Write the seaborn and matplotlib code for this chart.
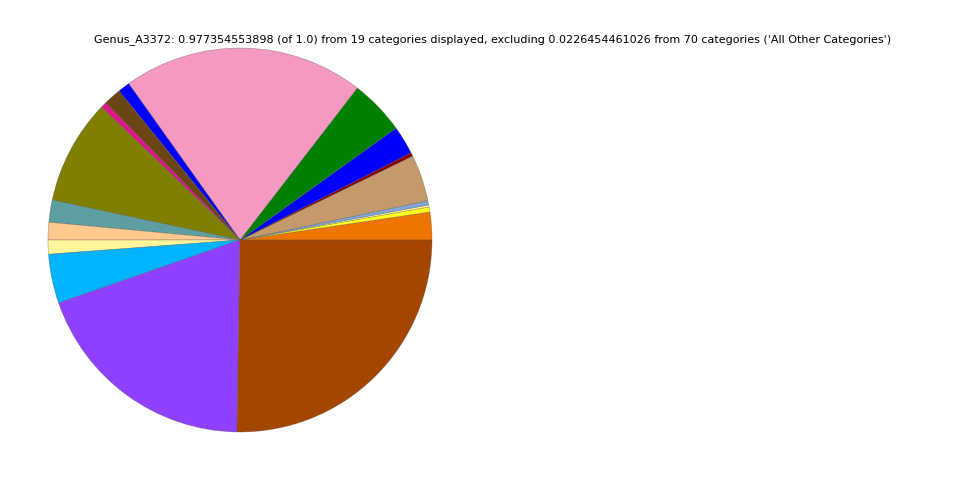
import numpy as np
import matplotlib
matplotlib.use('Agg')
import matplotlib.pyplot as plt
import seaborn as sns

# Relative abundance of the 19 displayed categories
categories = ['Cat_01', 'Cat_02', 'Cat_03', 'Cat_04', 'Cat_05', 'Cat_06', 'Cat_07',
              'Cat_08', 'Cat_09', 'Cat_10', 'Cat_11', 'Cat_12', 'Cat_13', 'Cat_14',
              'Cat_15', 'Cat_16', 'Cat_17', 'Cat_18', 'Cat_19']
abundance = [0.0228, 0.0041, 0.0017, 0.0035, 0.0383, 0.0030, 0.0233,
             0.0453, 0.1984, 0.0098, 0.0144, 0.0049, 0.0863, 0.0182,
             0.0144, 0.0116, 0.0404, 0.1897, 0.2467]
slice_colors = ['#f07400', '#ffff1a', '#fff5a0', '#7fa8d8', '#c49a6c', '#8b0000', '#0000ff',
                '#008000', '#f49ac2', '#0000ff', '#6b4513', '#e0158a', '#808000', '#5f9ea0',
                '#ffc88c', '#fff59a', '#00b4ff', '#8f40ff', '#a54600']

title_text = ("Genus_A3372: 0.977354553898 (of 1.0) from 19 categories displayed, "
              "excluding 0.0226454461026 from 70 categories ('All Other Categories')")

sns.set_style('white')
plt.rcParams['font.family'] = ['DejaVu Sans']

fig = plt.figure(figsize=(9.6, 4.8), dpi=100)
ax = fig.add_axes([48 / 960, 48 / 480, 384 / 960, 384 / 480])

ax.pie(abundance, colors=slice_colors, startangle=0, counterclock=True,
       wedgeprops={'linewidth': 0.4, 'edgecolor': (0.3, 0.3, 0.3, 0.5)})
ax.set_xlim(-1, 1)
ax.set_ylim(-1, 1)
ax.set_aspect('equal')
ax.axis('off')

fig.text(493 / 960, 1 - 40 / 480, title_text, ha='center', va='center',
         fontsize=8, color='black')

fig.savefig('out.png', dpi=100)
plt.close(fig)
